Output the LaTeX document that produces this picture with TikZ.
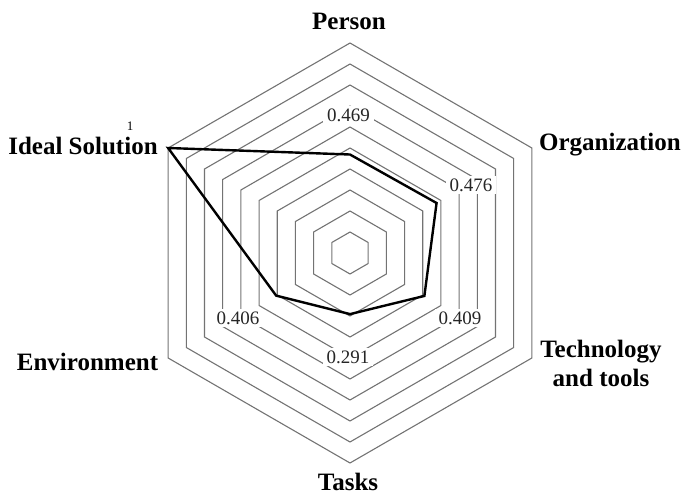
\documentclass[tikz,border=0pt]{standalone}
\usepackage{fontspec}
\setmainfont{Liberation Serif}
\usetikzlibrary{calc}
\begin{document}
\begin{tikzpicture}[x=1pt,y=1pt,
  ring/.style={draw=black!55, line width=1.1pt, line join=miter},
  series/.style={draw=black, line width=2.4pt, line join=miter},
  axislabel/.style={font=\fontsize{25}{29}\selectfont\bfseries, align=center, inner sep=0pt},
  vallabel/.style={font=\fontsize{19}{22}\selectfont, text=black!85, fill=white, inner xsep=4pt, inner ysep=3pt},
  ticklabel/.style={font=\fontsize{13}{15}\selectfont, inner sep=0pt}]
\useasboundingbox (0,0) rectangle (683,496);
\coordinate (c) at (350,243);

% concentric hexagonal grid, 10 rings of step 0.1
\foreach \k in {1,...,10}{
  \draw[ring] ($(c)+(90:21*\k)$) -- ($(c)+(30:21*\k)$) -- ($(c)+(-30:21*\k)$)
    -- ($(c)+(-90:21*\k)$) -- ($(c)+(210:21*\k)$) -- ($(c)+(150:21*\k)$) -- cycle;
}

% value labels
\node[vallabel] (vp) at (348.5,381) {0.469};
\node[vallabel] (vo) at (471,311) {0.476};
\node[vallabel] (vt) at (460,178) {0.409};
\node[vallabel] (vk) at (348,139) {0.291};
\node[vallabel] (ve) at (238,178) {0.406};
\node[ticklabel] (vi) at (130,370) {1};

% data series
\coordinate (pP) at ($(c)+(90:98.49)$);
\coordinate (pO) at ($(c)+(30:99.96)$);
\coordinate (pT) at ($(c)+(-30:85.89)$);
\coordinate (pK) at ($(c)+(-90:61.11)$);
\coordinate (pE) at ($(c)+(210:85.26)$);
\coordinate (pI) at ($(c)+(150:210)$);
\draw[series] (pP) -- (pO) -- (pT) -- (pK) -- (pE) -- (pI) -- cycle;

% axis names
\node[axislabel] (lP) at (349,475) {Person};
\node[axislabel] (lO) at (610,351) {Organization};
\node[axislabel] (lT) at (601,133) {Technology\\and tools};
\node[axislabel] (lK) at (348,14) {Tasks};
\node[axislabel] (lE) at (87.5,134) {Environment};
\node[axislabel] (lI) at (83,350) {Ideal Solution};
\end{tikzpicture}
\end{document}
